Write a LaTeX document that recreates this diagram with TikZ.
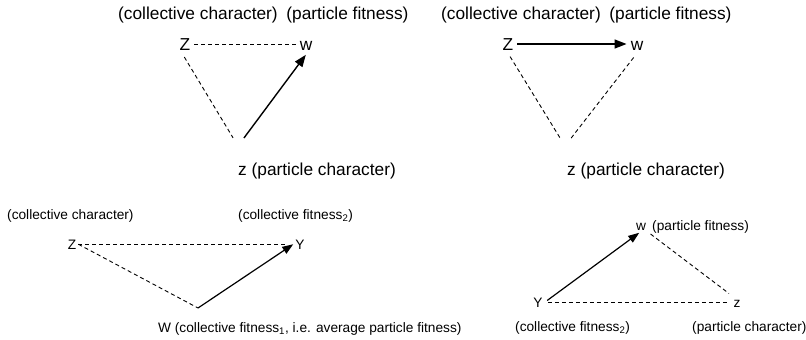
\documentclass[tikz,border=0pt]{standalone}
\usepackage{fontspec}
\setmainfont{Liberation Sans}
\usetikzlibrary{arrows.meta}
\begin{document}
\begin{tikzpicture}[x=1pt,y=-1pt,
  big/.style={font=\fontsize{17.3}{19}\selectfont, inner sep=0pt},
  small/.style={font=\fontsize{13.7}{16}\selectfont, inner sep=0pt},
  bigletter/.style={font=\fontsize{17.3}{19}\selectfont, inner sep=3pt, text height=12pt, text depth=0pt, anchor=base},
  smallletter/.style={font=\fontsize{13.7}{16}\selectfont, inner sep=2pt, text height=9.5pt, text depth=0pt, anchor=base},
  dline/.style={line width=0.9pt, dash pattern=on 4pt off 3pt},
  aline/.style={line width=1.4pt, -{Triangle[length=12pt,width=9pt]}},
  saline/.style={line width=1.2pt, -{Triangle[length=11pt,width=8pt]}}]
\useasboundingbox (0,0) rectangle (806,340);

% ---------- top left ----------
\node[big, anchor=west] (h1) at (118,15) {(collective character)\hspace{0.5em}(particle fitness)};
\node[bigletter] (Z1) at (185,50) {Z};
\node[bigletter] (w1) at (306,50) {w};
\coordinate (v1) at (238,146);
\node[big, anchor=west] (l1) at (238,171) {z (particle character)};
\draw[dline, shorten <=1pt, shorten >=1pt] (Z1) -- (w1);
\draw[dline, shorten <=4.5pt, shorten >=9.5pt] ([xshift=-3pt]Z1.south) -- (v1);
\draw[aline, shorten <=10pt, shorten >=2pt] (v1) -- ([xshift=1pt]w1.south);

% ---------- top right ----------
\node[big, anchor=west] (h2) at (441,15) {(collective character)\hspace{0.5em}(particle fitness)};
\node[bigletter] (Z2) at (508,50) {Z};
\node[bigletter] (w2) at (637,50) {w};
\coordinate (v2) at (565,146);
\node[big, anchor=west] (l2) at (567,171) {z (particle character)};
\draw[aline, shorten <=1pt, shorten >=1pt] (Z2) -- (w2);
\draw[dline, shorten <=4pt, shorten >=9.5pt] (Z2.south) -- (v2);
\draw[dline, shorten <=10pt, shorten >=4pt] (v2) -- (w2.south);

% ---------- bottom left ----------
\node[small, anchor=west] (h3a) at (7,216) {(collective character)};
\node[small, anchor=west] (h3b) at (238,216) {(collective fitness\textsubscript{2})};
\node[smallletter] (Z3) at (72,249) {Z};
\node[smallletter] (Y3) at (300,249) {Y};
\coordinate (v3) at (198,308);
\node[small, anchor=west] (l3) at (158,329) {W (collective fitness\textsubscript{1}, i.e. average particle fitness)};
\draw[dline, shorten <=0pt, shorten >=7pt] (Z3.east) -- (Y3.west);
\draw[dline, shorten <=0pt] (Z3.east) -- (v3);
\draw[saline, shorten >=0pt] (v3) -- (Y3.west);

% ---------- bottom right ----------
\node[smallletter] (w4) at (641,230) {w};
\node[small, anchor=base west] (l4) at (652,230) {(particle fitness)};
\node[smallletter] (Y4) at (538,307) {Y};
\node[smallletter] (z4) at (737,307) {z};
\node[small, anchor=west] (l4a) at (515,328) {(collective fitness\textsubscript{2})};
\node[small, anchor=west] (l4b) at (692,328) {(particle character)};
\draw[saline, shorten <=3pt, shorten >=1pt] (Y4.east) -- ([xshift=-1pt]w4.south);
\draw[dline, shorten <=3pt, shorten >=3pt] (w4.south east) -- (z4.north west);
\draw[dline, shorten <=3pt, shorten >=3pt] (Y4) -- (z4);
\end{tikzpicture}
\end{document}
